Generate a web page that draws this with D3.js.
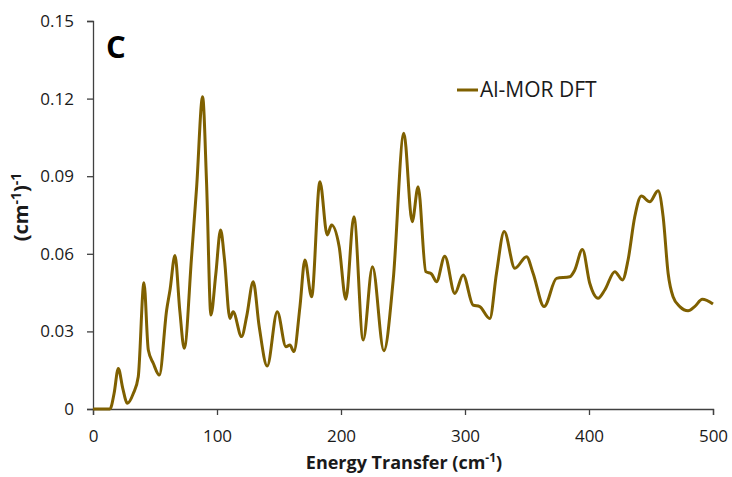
<!DOCTYPE html>
<html>
<head>
<meta charset="utf-8">
<script src="https://cdn.jsdelivr.net/npm/d3@7"></script>
<style>
  html, body { margin: 0; padding: 0; background: #fff; }
  svg { display: block; font-family: "Open Sans", "DejaVu Sans", sans-serif; }
</style>
</head>
<body>
<svg id="chart" width="732" height="477"></svg>
<script>
// Inelastic neutron scattering spectrum, Al-MOR (DFT)
const energy = [0, 13.7, 17, 20.4, 24, 27.7, 32.5, 36.5, 41.1, 44.6, 48.6, 53.5, 59.4, 62.1, 66.1, 70, 73.6, 79.5, 83.6, 88.4, 91.6, 95.1, 99, 102.9, 106, 110.4, 113, 119.8, 124, 129.2, 134, 140.5, 148.6, 155.6, 158.8, 162, 166.9, 170.9, 176.3, 183, 188.9, 192.4, 198.5, 203.9, 210.4, 217.9, 225.4, 234.6, 242.1, 250.7, 257.4, 262.2, 268.4, 273, 277, 283.7, 291.8, 298.5, 306.5, 311.9, 320, 325.4, 331.6, 340.2, 349.6, 354.9, 363.8, 373.8, 384.5, 388.5, 394.7, 400.6, 407.3, 412.7, 420.8, 427, 431.5, 436.9, 442.2, 449, 455.7, 459.8, 463.8, 467.8, 473.2, 479.9, 485.2, 491.4, 500];
const intensity = [0, 0, 0.006, 0.0157, 0.008, 0.0022, 0.006, 0.0125, 0.0488, 0.0228, 0.0177, 0.0131, 0.0383, 0.046, 0.0593, 0.038, 0.0235, 0.0589, 0.086, 0.1207, 0.0872, 0.0363, 0.052, 0.0692, 0.058, 0.035, 0.0376, 0.028, 0.036, 0.0492, 0.032, 0.0166, 0.0376, 0.0241, 0.0247, 0.0222, 0.0396, 0.0576, 0.0434, 0.0879, 0.0673, 0.0711, 0.0628, 0.0424, 0.0743, 0.0267, 0.055, 0.0225, 0.0499, 0.1066, 0.0724, 0.0859, 0.0531, 0.0522, 0.0492, 0.0591, 0.0447, 0.0518, 0.0402, 0.0396, 0.035, 0.0525, 0.0686, 0.0544, 0.0589, 0.0525, 0.0396, 0.0505, 0.0511, 0.0537, 0.0617, 0.0486, 0.0428, 0.046, 0.0531, 0.0499, 0.0576, 0.0743, 0.0823, 0.0801, 0.0844, 0.0743, 0.0525, 0.0434, 0.0396, 0.038, 0.0396, 0.0424, 0.0406];
const xTicks = [0, 100, 200, 300, 400, 500];
const yTicks = [0, 0.03, 0.06, 0.09, 0.12, 0.15];
const seriesName = "Al-MOR DFT";

const svg = d3.select("#chart");
const lineColor = "#7f6000";
const axisColor = "#404040";
const textColor = "#1a1a1a";

const x = d3.scaleLinear().domain([0, 500]).range([93, 713]);
const y = d3.scaleLinear().domain([0, 0.15]).range([409, 21]);

// y axis
const yAxis = svg.append("g")
  .attr("transform", `translate(${x(0)},0)`)
  .call(d3.axisLeft(y).tickValues(yTicks).tickSize(6).tickPadding(13)
    .tickFormat(d => d === 0 ? "0" : d3.format(".2f")(d)));
// x axis
const xAxis = svg.append("g")
  .attr("transform", `translate(0,${y(0)})`)
  .call(d3.axisBottom(x).tickValues(xTicks).tickSize(6).tickPadding(15).tickFormat(d3.format("d")));

[yAxis, xAxis].forEach(g => {
  g.select(".domain").attr("stroke", axisColor).attr("stroke-width", 1.3);
  g.selectAll(".tick line").attr("stroke", axisColor).attr("stroke-width", 1.3);
  g.selectAll(".tick text").attr("fill", textColor).style("font-size", "17px")
    .style("font-family", "'Open Sans', sans-serif");
});

// spectrum line
const data = energy.map((e, i) => [e, intensity[i]]);
svg.append("path")
  .datum(data)
  .attr("fill", "none")
  .attr("stroke", lineColor)
  .attr("stroke-width", 3)
  .attr("stroke-linejoin", "round")
  .attr("d", d3.line().x(d => x(d[0])).y(d => y(d[1])).curve(d3.curveMonotoneX));

// panel letter
svg.append("text")
  .attr("x", 106).attr("y", 58)
  .attr("font-size", 31).attr("font-weight", "bold").attr("fill", "#000")
  .text("C");

// legend
svg.append("line")
  .attr("x1", 457).attr("x2", 478).attr("y1", 90).attr("y2", 90)
  .attr("stroke", lineColor).attr("stroke-width", 3);
svg.append("text")
  .attr("x", 480).attr("y", 97)
  .attr("font-size", 21).attr("fill", textColor)
  .text(seriesName);

// axis titles
const xt = svg.append("text")
  .attr("x", 404).attr("y", 469)
  .attr("text-anchor", "middle")
  .attr("font-size", 18).attr("font-weight", "bold").attr("fill", textColor);
xt.append("tspan").text("Energy Transfer (cm");
xt.append("tspan").attr("dy", -7).attr("font-size", 12).text("-1");
xt.append("tspan").attr("dy", 7).text(")");

const yt = svg.append("text")
  .attr("transform", "translate(28,207) rotate(-90)")
  .attr("text-anchor", "middle")
  .attr("font-size", 20).attr("font-weight", "bold").attr("fill", textColor);
yt.append("tspan").text("(cm");
yt.append("tspan").attr("dy", -7).attr("font-size", 14).text("-1");
yt.append("tspan").attr("dy", 7).text(")");
yt.append("tspan").attr("dy", -7).attr("font-size", 14).text("-1");
</script>
</body>
</html>
